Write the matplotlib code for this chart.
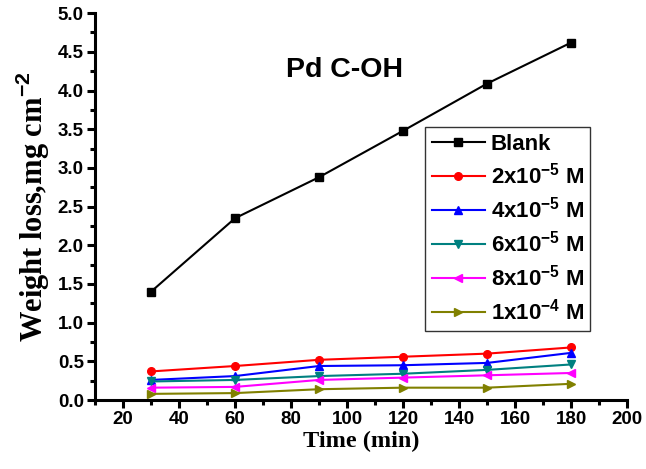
import matplotlib
matplotlib.use("Agg")
import matplotlib.pyplot as plt
from matplotlib.ticker import MultipleLocator

time = [30, 60, 90, 120, 150, 180]
blank = [1.40, 2.35, 2.88, 3.48, 4.09, 4.62]
c2e5 = [0.37, 0.44, 0.52, 0.56, 0.60, 0.68]
c4e5 = [0.26, 0.31, 0.44, 0.45, 0.48, 0.61]
c6e5 = [0.24, 0.26, 0.31, 0.34, 0.39, 0.46]
c8e5 = [0.16, 0.17, 0.26, 0.29, 0.32, 0.35]
c1e4 = [0.08, 0.09, 0.14, 0.16, 0.16, 0.21]

labels = ["Blank", r"2x10$^{-5}$ M", r"4x10$^{-5}$ M", r"6x10$^{-5}$ M",
          r"8x10$^{-5}$ M", r"1x10$^{-4}$ M"]
series = [blank, c2e5, c4e5, c6e5, c8e5, c1e4]
colors = ["black", "red", "blue", "#008080", "magenta", "#808000"]
markers = ["s", "o", "^", "v", "<", ">"]

plt.rcParams['font.family'] = ['Liberation Sans', 'DejaVu Sans']
plt.rcParams['mathtext.fontset'] = 'custom'
plt.rcParams['mathtext.rm'] = 'Liberation Sans:bold'
plt.rcParams['mathtext.it'] = 'Liberation Sans:bold'
plt.rcParams['mathtext.bf'] = 'Liberation Sans:bold'

fig = plt.figure(figsize=(6.46, 4.69), dpi=100)
ax = fig.add_axes([0.147, 0.147, 0.824, 0.825])

for y, lab, c, m in zip(series, labels, colors, markers):
    ax.plot(time, y, color=c, marker=m, markersize=5.5, linewidth=1.5, label=lab)

ax.set_xlim(10, 200)
ax.set_ylim(0, 5.0)
ax.xaxis.set_major_locator(MultipleLocator(20))
ax.xaxis.set_minor_locator(MultipleLocator(10))
ax.yaxis.set_major_locator(MultipleLocator(0.5))
ax.yaxis.set_minor_locator(MultipleLocator(0.25))
ax.yaxis.set_major_formatter(matplotlib.ticker.FormatStrFormatter('%.1f'))

for s in ['top', 'right']:
    ax.spines[s].set_visible(False)
for s in ['left', 'bottom']:
    ax.spines[s].set_linewidth(2.2)

ax.tick_params(which='major', direction='out', length=6, width=2.2, labelsize=13.5, pad=2)
ax.tick_params(which='minor', direction='out', length=3.5, width=2.2)
for t in ax.get_xticklabels() + ax.get_yticklabels():
    t.set_fontweight('bold')

ax.set_xlabel("Time (min)", fontfamily='Liberation Serif', fontweight='bold', fontsize=17.5, labelpad=2)
ax.set_ylabel("Weight loss,mg cm$^{-2}$", fontfamily='Liberation Serif', fontweight='bold', fontsize=22, labelpad=4)

ax.text(0.468, 0.853, "Pd C-OH", transform=ax.transAxes, fontsize=20.5, fontweight='bold', ha='center', va='center')

leg = ax.legend(loc='upper left', bbox_to_anchor=(0.62, 0.705), borderaxespad=0,
                frameon=True, fancybox=False, edgecolor='black',
                prop={'weight': 'bold', 'size': 16}, handlelength=2.4,
                labelspacing=0.36, borderpad=0.3, handletextpad=0.25)
leg.get_frame().set_linewidth(1.0)

fig.savefig("out.png", dpi=100)
